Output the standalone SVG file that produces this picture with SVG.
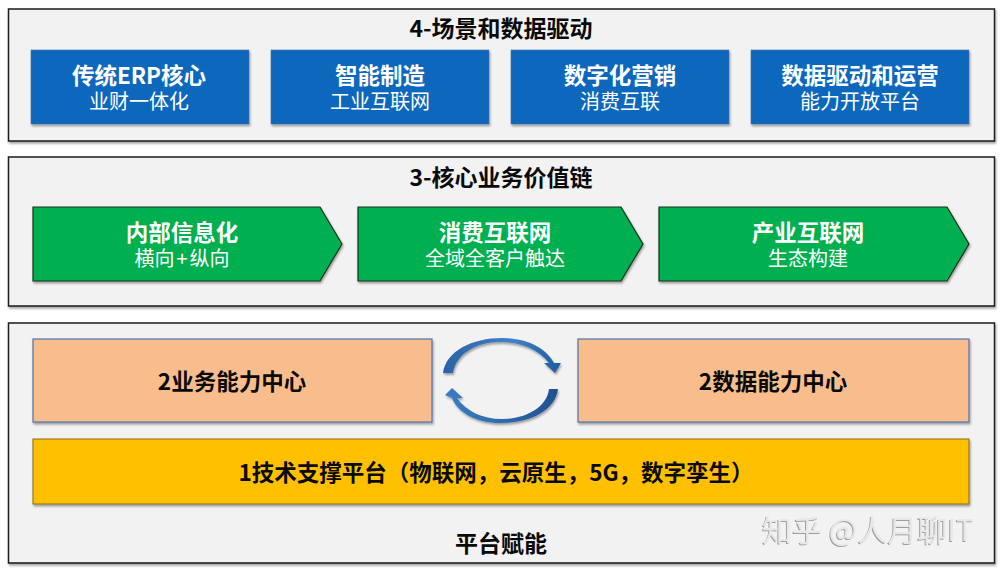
<svg xmlns="http://www.w3.org/2000/svg" width="1001" height="572" viewBox="0 0 1001 572">
<defs>
<filter id="sh" x="-5%" y="-10%" width="110%" height="125%"><feDropShadow dx="1" dy="2" stdDeviation="1.2" flood-color="#000" flood-opacity="0.35"/></filter>
<filter id="wmf" x="-5%" y="-10%" width="110%" height="130%"><feDropShadow dx="-1" dy="1" stdDeviation="0.6" flood-color="#888" flood-opacity="0.8"/></filter>
<linearGradient id="ag1" x1="0" y1="0" x2="1" y2="0"><stop offset="0" stop-color="#2b62a6"/><stop offset="0.6" stop-color="#3f82c8"/><stop offset="1" stop-color="#1f5a9e"/></linearGradient>
<linearGradient id="ag2" x1="1" y1="0" x2="0" y2="0"><stop offset="0" stop-color="#1f4f8f"/><stop offset="0.55" stop-color="#2f6db0"/><stop offset="1" stop-color="#3a7cc4"/></linearGradient>
</defs>
<style>
text{font-family:"Noto Sans CJK SC","Liberation Sans",sans-serif;text-anchor:middle}
.panel{fill:#f2f2f2;stroke:#1a1a1a;stroke-width:1.5;filter:url(#sh)}
.blue{fill:#0b68bd;stroke:#4f6fa8;stroke-width:.6;filter:url(#sh)}
.green{fill:#00af50;stroke:#10301c;stroke-width:1.2;filter:url(#sh)}
.orange{fill:#f9bd8d;stroke:#4f74a8;stroke-width:1.2;filter:url(#sh)}
.yellow{fill:#ffc000;stroke:#8a6a10;stroke-width:1;filter:url(#sh)}
.h{font-size:23px;font-weight:700;fill:#0a0a0a}
.h2{font-size:22.500px;font-weight:700;fill:#0a0a0a}
.t{font-size:22.500px;font-weight:700;fill:#fff}
.s{font-size:20px;font-weight:400;fill:#fff}
.wm{font-size:30px;fill:#e8e8e8;font-weight:400;filter:url(#wmf)}
</style>
<g id="panel-4"><rect class="panel" x="8.500" y="9" width="986" height="132"/><text class="h" x="501" y="37">4-场景和数据驱动</text></g>
<g id="panel-3"><rect class="panel" x="8.500" y="157" width="986" height="149"/><text class="h" x="501" y="186">3-核心业务价值链</text></g>
<g id="panel-platform"><rect class="panel" x="8.500" y="323" width="986" height="240"/><text class="h" x="501" y="552">平台赋能</text></g>
<g id="n-erp"><rect class="blue" x="31" y="50" width="218" height="74"/><text class="t" x="139" y="84">传统ERP核心</text><text class="s" x="139" y="109">业财一体化</text></g>
<g id="n-mfg"><rect class="blue" x="271" y="50" width="218" height="74"/><text class="t" x="380" y="84">智能制造</text><text class="s" x="380" y="109">工业互联网</text></g>
<g id="n-mkt"><rect class="blue" x="511" y="50" width="218" height="74"/><text class="t" x="620" y="84">数字化营销</text><text class="s" x="620" y="109">消费互联</text></g>
<g id="n-data"><rect class="blue" x="751" y="50" width="218" height="74"/><text class="t" x="860" y="84">数据驱动和运营</text><text class="s" x="860" y="109">能力开放平台</text></g>
<g id="n-internal"><polygon class="green" points="33,207 320,207 342,244 320,281 33,281"/><text class="t" x="182" y="241">内部信息化</text><text class="s" x="182" y="266">横向<tspan dx="2">+</tspan><tspan dx="2">纵向</tspan></text></g>
<g id="n-consumer"><polygon class="green" points="358,207 621,207 643,244 621,281 358,281"/><text class="t" x="495" y="241">消费互联网</text><text class="s" x="495" y="266">全域全客户触达</text></g>
<g id="n-industry"><polygon class="green" points="659,207 947,207 969,244 947,281 659,281"/><text class="t" x="808" y="241">产业互联网</text><text class="s" x="808" y="266">生态构建</text></g>
<g id="n-biz"><rect class="orange" x="33" y="339" width="399" height="83"/><text class="h2" x="232" y="390">2业务能力中心</text></g>
<g id="n-datacap"><rect class="orange" x="578" y="339" width="391" height="83"/><text class="h2" x="773" y="390">2数据能力中心</text></g>
<g id="n-tech"><rect class="yellow" x="33" y="439" width="936" height="65"/><text class="h2" x="496" y="481">1技术支撑平台（物联网，云原生，5G，数字孪生）</text></g>
<g id="connectors">
<path d="M443 373 C446 351 472 338 502 338 C526 338 545 347 554 363 L561 363 L555 373 L544 363 L549 363 C538 349 520 342 500 342 C476 342 456 354 453 373 Z" fill="url(#ag1)" filter="url(#sh)"/>
<path d="M558 389 C555 411 530 423 500 423 C477 423 458 413 452 398 L445 395 L452 388 L463 398 L457 398 C466 411 482 419 502 419 C526 419 547 407 549 389 Z" fill="url(#ag2)" filter="url(#sh)"/>
</g>
<text class="wm" x="868" y="541">知乎 @人月聊IT</text>
</svg>
